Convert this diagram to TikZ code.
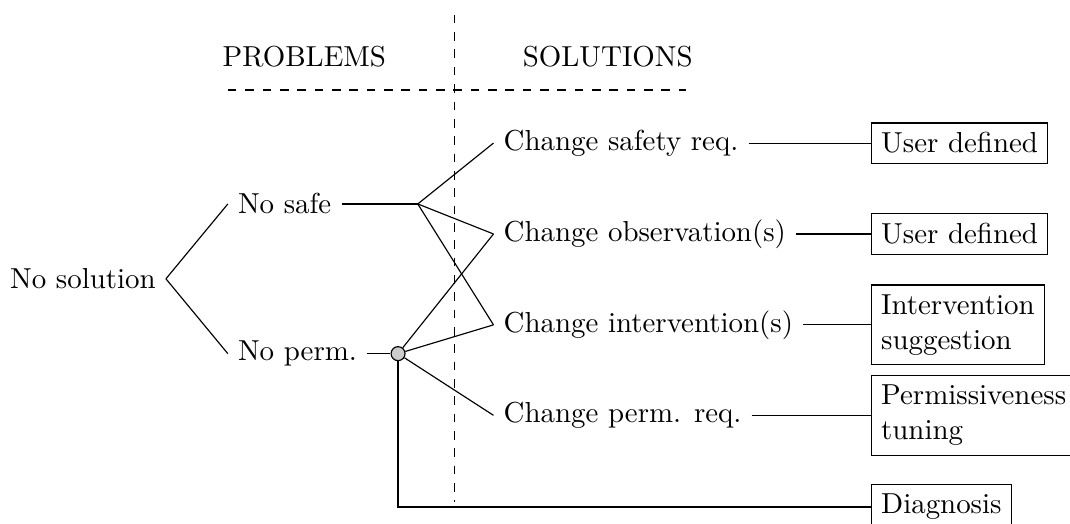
\documentclass[tikz,border=0pt]{standalone}
\begin{document}
\begin{tikzpicture}[xscale=1.0,yscale=-1.0,
        txt/.style={anchor=west},
        leaf/.style={draw,anchor=west,align=left}]
        \useasboundingbox (0.0,0.0) rectangle (13.01,6.36);
        % headers and separators
        \node (prob) at (3.70,0.69) {PROBLEMS};
        \node (solu) at (7.39,0.69) {SOLUTIONS};
        \draw[dashed] (2.77,1.095) -- (8.34,1.095);
        \draw[dashed] (5.53,0.18) -- (5.53,6.10);
        % problems
        \node[txt] (nosol) at (0.0,3.39) {No solution};
        \node[txt] (nosafe) at (2.77,2.48) {No safe};
        \node[txt] (noperm) at (2.77,4.30) {No perm.};
        \coordinate (split) at (5.08,2.48);
        \node[circle,draw,fill=gray!40,inner sep=0pt,minimum size=0.17cm] (hub) at (4.84,4.30) {};
        % solutions
        \node[txt] (chsafe) at (6.0,1.74) {Change safety req.};
        \node[txt] (chobs) at (6.0,2.845) {Change observation(s)};
        \node[txt] (chint) at (6.0,3.95) {Change intervention(s)};
        \node[txt] (chperm) at (6.0,5.05) {Change perm. req.};
        \node[leaf] (userA) at (10.59,1.74) {User defined};
        \node[leaf] (userB) at (10.59,2.845) {User defined};
        \node[leaf] (suggest) at (10.59,3.95) {Intervention\\suggestion};
        \node[leaf] (tuning) at (10.59,5.05) {Permissiveness\\tuning};
        \node[leaf] (diag) at (10.59,6.165) {Diagnosis};
        % connections
        \draw (nosol.east) -- (nosafe.west);
        \draw (nosol.east) -- (noperm.west);
        \draw[thick] (nosafe.east) -- (split);
        \draw (split) -- (chsafe.west);
        \draw (split) -- (chobs.west);
        \draw (split) -- (chint.west);
        \draw (noperm.east) -- (hub);
        \draw (hub) -- (chobs.west);
        \draw (hub) -- (chint.west);
        \draw (hub) -- (chperm.west);
        \draw (hub) |- (diag.west);
        \draw (chsafe.east) -- (userA.west);
        \draw (chobs.east) -- (userB.west);
        \draw (chint.east) -- (suggest.west);
        \draw (chperm.east) -- (tuning.west);
\end{tikzpicture}
\end{document}
